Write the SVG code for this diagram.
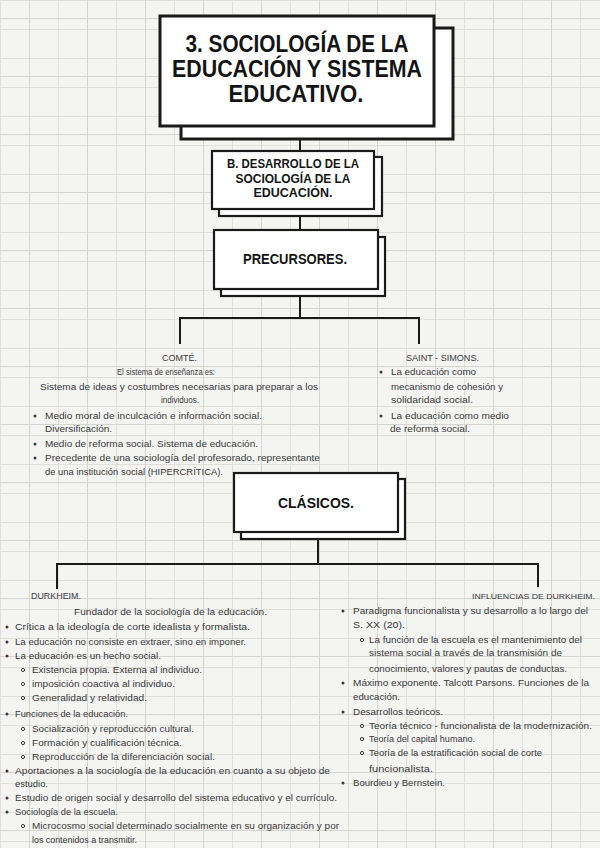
<svg xmlns="http://www.w3.org/2000/svg" width="600" height="848" viewBox="0 0 600 848">
<defs>
<pattern id="grid" x="0" y="0" width="29" height="29" patternUnits="userSpaceOnUse">
<path d="M0.5 0V29M0 0.5H29" fill="none" stroke="#dfdfdc" stroke-width="1"/>
</pattern>
<pattern id="grid2" x="29" y="18" width="58" height="58" patternUnits="userSpaceOnUse">
<path d="M0.5 0V58M0 0.5H58" fill="none" stroke="#d4d4d1" stroke-width="1"/>
</pattern>
<style>
.box{fill:#ffffff;stroke:#1a1a1a;stroke-width:2.2}
.tbox{fill:#ffffff;stroke:#1a1a1a;stroke-width:3}
.h{font-family:"Liberation Sans",Arial,sans-serif;font-weight:bold;fill:#141414;text-anchor:middle}
.t{font-family:"Liberation Sans",Arial,sans-serif;font-size:9.5px;fill:#3a3a3a}
.ln{fill:none;stroke:#1a1a1a;stroke-width:2}
.b{fill:#3a3a3a}
.o{fill:none;stroke:#3a3a3a;stroke-width:1}
</style>
</defs>
<rect width="600" height="848" fill="#f4f4f2"/>
<rect width="600" height="848" fill="url(#grid)"/>
<rect width="600" height="848" fill="url(#grid2)"/>

<g id="connectors">
<path class="ln" d="M300 139V151"/>
<path class="ln" d="M300 216V230"/>
<path class="ln" d="M300 296V318M180 344V318H419V344"/>
<path class="ln" d="M318 539V564M57 589V564H538V587"/>
</g>

<g id="title">
<rect class="tbox" x="181" y="28" width="272" height="111"/>
<rect class="tbox" x="160" y="16" width="274" height="110"/>
<text class="h" x="297" y="52" font-size="23" textLength="223" lengthAdjust="spacingAndGlyphs">3. SOCIOLOGÍA DE LA</text>
<text class="h" x="297" y="77" font-size="23" textLength="250" lengthAdjust="spacingAndGlyphs">EDUCACIÓN Y SISTEMA</text>
<text class="h" x="296" y="102" font-size="23" textLength="135" lengthAdjust="spacingAndGlyphs">EDUCATIVO.</text>
</g>

<g id="desarrollo">
<rect class="box" x="219" y="157" width="163" height="59"/>
<rect class="box" x="212" y="151" width="162" height="58"/>
<text class="h" x="293" y="168" font-size="12.5" textLength="132" lengthAdjust="spacingAndGlyphs">B. DESARROLLO DE LA</text>
<text class="h" x="293" y="183" font-size="12.5" textLength="115" lengthAdjust="spacingAndGlyphs">SOCIOLOGÍA DE LA</text>
<text class="h" x="293" y="197" font-size="12.5" textLength="79" lengthAdjust="spacingAndGlyphs">EDUCACIÓN.</text>
</g>

<g id="precursores">
<rect class="box" x="221" y="237" width="164" height="59"/>
<rect class="box" x="214" y="230" width="164" height="59"/>
<text class="h" x="295" y="264" font-size="14" textLength="104" lengthAdjust="spacingAndGlyphs">PRECURSORES.</text>
</g>

<g id="comte">
<text class="t" x="162" y="361" textLength="35" lengthAdjust="spacingAndGlyphs">COMTÉ.</text>
<text class="t" x="117" y="375" textLength="98" lengthAdjust="spacingAndGlyphs">El sistema de enseñanza es:</text>
<text class="t" x="40" y="390" textLength="278" lengthAdjust="spacingAndGlyphs">Sistema de ideas y costumbres necesarias para preparar a los</text>
<text class="t" x="161" y="403" textLength="38" lengthAdjust="spacingAndGlyphs">individuos.</text>
<circle class="b" cx="35" cy="416" r="1.5"/>
<text class="t" x="45" y="419" textLength="217" lengthAdjust="spacingAndGlyphs">Medio moral de inculcación e información social.</text>
<text class="t" x="45" y="432" textLength="67" lengthAdjust="spacingAndGlyphs">Diversificación.</text>
<circle class="b" cx="35" cy="444" r="1.5"/>
<text class="t" x="45" y="447" textLength="213" lengthAdjust="spacingAndGlyphs">Medio de reforma social. Sistema de educación.</text>
<circle class="b" cx="35" cy="458" r="1.5"/>
<text class="t" x="45" y="461" textLength="275" lengthAdjust="spacingAndGlyphs">Precedente de una sociología del profesorado, representante</text>
<text class="t" x="45" y="475" textLength="178" lengthAdjust="spacingAndGlyphs">de una institución social (HIPERCRÍTICA).</text>
</g>

<g id="saint-simons">
<text class="t" x="406" y="361" textLength="73" lengthAdjust="spacingAndGlyphs">SAINT - SIMONS.</text>
<circle class="b" cx="381" cy="372" r="1.5"/>
<text class="t" x="391" y="375" textLength="85" lengthAdjust="spacingAndGlyphs">La educación como</text>
<text class="t" x="391" y="390" textLength="112" lengthAdjust="spacingAndGlyphs">mecanismo de cohesión y</text>
<text class="t" x="391" y="403" textLength="82" lengthAdjust="spacingAndGlyphs">solidaridad social.</text>
<circle class="b" cx="381" cy="416" r="1.5"/>
<text class="t" x="391" y="419" textLength="118" lengthAdjust="spacingAndGlyphs">La educación como medio</text>
<text class="t" x="390" y="432" textLength="80" lengthAdjust="spacingAndGlyphs">de reforma social.</text>
</g>

<g id="clasicos">
<rect class="box" x="241" y="479" width="164" height="60"/>
<rect class="box" x="234" y="473" width="164" height="59"/>
<text class="h" x="316" y="508" font-size="15" textLength="76" lengthAdjust="spacingAndGlyphs">CLÁSICOS.</text>
</g>

<g id="durkheim">
<text class="t" x="31" y="599" textLength="50" lengthAdjust="spacingAndGlyphs">DURKHEIM.</text>
<text class="t" x="74" y="615" textLength="193" lengthAdjust="spacingAndGlyphs">Fundador de la sociología de la educación.</text>
<circle class="b" cx="7" cy="627" r="1.5"/>
<text class="t" x="15" y="630" textLength="235" lengthAdjust="spacingAndGlyphs">Crítica a la ideología de corte idealista y formalista.</text>
<circle class="b" cx="7" cy="642" r="1.5"/>
<text class="t" x="15" y="645" textLength="231" lengthAdjust="spacingAndGlyphs">La educación no consiste en extraer, sino en imponer.</text>
<circle class="b" cx="7" cy="656" r="1.5"/>
<text class="t" x="15" y="659" textLength="146" lengthAdjust="spacingAndGlyphs">La educación es un hecho social.</text>
<circle class="o" cx="23" cy="670" r="1.6"/>
<text class="t" x="32" y="673" textLength="170" lengthAdjust="spacingAndGlyphs">Existencia propia. Externa al individuo.</text>
<circle class="o" cx="23" cy="684" r="1.6"/>
<text class="t" x="32" y="687" textLength="143" lengthAdjust="spacingAndGlyphs">imposición coactiva al individuo.</text>
<circle class="o" cx="23" cy="698" r="1.6"/>
<text class="t" x="32" y="701" textLength="115" lengthAdjust="spacingAndGlyphs">Generalidad y relatividad.</text>
<circle class="b" cx="7" cy="714" r="1.5"/>
<text class="t" x="15" y="717" textLength="113" lengthAdjust="spacingAndGlyphs">Funciones de la educación.</text>
<circle class="o" cx="23" cy="729" r="1.6"/>
<text class="t" x="32" y="732" textLength="162" lengthAdjust="spacingAndGlyphs">Socialización y reproducción cultural.</text>
<circle class="o" cx="23" cy="743" r="1.6"/>
<text class="t" x="32" y="746" textLength="150" lengthAdjust="spacingAndGlyphs">Formación y cualificación técnica.</text>
<circle class="o" cx="23" cy="757" r="1.6"/>
<text class="t" x="32" y="760" textLength="183" lengthAdjust="spacingAndGlyphs">Reproducción de la diferenciación social.</text>
<circle class="b" cx="7" cy="771" r="1.5"/>
<text class="t" x="15" y="774" textLength="315" lengthAdjust="spacingAndGlyphs">Aportaciones a la sociología de la educación en cuanto a su objeto de</text>
<text class="t" x="15" y="787" textLength="33" lengthAdjust="spacingAndGlyphs">estudio.</text>
<circle class="b" cx="7" cy="798" r="1.5"/>
<text class="t" x="15" y="801" textLength="322" lengthAdjust="spacingAndGlyphs">Estudio de origen social y desarrollo del sistema educativo y el currículo.</text>
<circle class="b" cx="7" cy="812" r="1.5"/>
<text class="t" x="15" y="815" textLength="103" lengthAdjust="spacingAndGlyphs">Sociología de la escuela.</text>
<circle class="o" cx="23" cy="826" r="1.6"/>
<text class="t" x="32" y="829" textLength="307" lengthAdjust="spacingAndGlyphs">Microcosmo social determinado socialmente en su organización y por</text>
<text class="t" x="32" y="843" textLength="105" lengthAdjust="spacingAndGlyphs">los contenidos a transmitir.</text>
</g>

<g id="influencias">
<text class="t" x="472" y="599" font-size="7.8" style="font-size:7.8px" textLength="123" lengthAdjust="spacingAndGlyphs">INFLUENCIAS DE DURKHEIM.</text>
<circle class="b" cx="343" cy="611" r="1.5"/>
<text class="t" x="353" y="614" textLength="235" lengthAdjust="spacingAndGlyphs">Paradigma funcionalista y su desarrollo a lo largo del</text>
<text class="t" x="353" y="628" textLength="52" lengthAdjust="spacingAndGlyphs">S. XX (20).</text>
<circle class="o" cx="362" cy="640" r="1.6"/>
<text class="t" x="369" y="643" textLength="213" lengthAdjust="spacingAndGlyphs">La función de la escuela es el mantenimiento del</text>
<text class="t" x="369" y="656" textLength="193" lengthAdjust="spacingAndGlyphs">sistema social a través de la transmisión de</text>
<text class="t" x="369" y="672" textLength="198" lengthAdjust="spacingAndGlyphs">conocimiento, valores y pautas de conductas.</text>
<circle class="b" cx="343" cy="683" r="1.5"/>
<text class="t" x="353" y="686" textLength="236" lengthAdjust="spacingAndGlyphs">Máximo exponente. Talcott Parsons. Funciones de la</text>
<text class="t" x="353" y="700" textLength="47" lengthAdjust="spacingAndGlyphs">educación.</text>
<circle class="b" cx="343" cy="712" r="1.5"/>
<text class="t" x="353" y="715" textLength="90" lengthAdjust="spacingAndGlyphs">Desarrollos teóricos.</text>
<circle class="o" cx="362" cy="726" r="1.6"/>
<text class="t" x="369" y="729" textLength="223" lengthAdjust="spacingAndGlyphs">Teoría técnico - funcionalista de la modernización.</text>
<circle class="o" cx="362" cy="739" r="1.6"/>
<text class="t" x="369" y="742" textLength="106" lengthAdjust="spacingAndGlyphs">Teoría del capital humano.</text>
<circle class="o" cx="362" cy="753" r="1.6"/>
<text class="t" x="369" y="756" textLength="173" lengthAdjust="spacingAndGlyphs">Teoría de la estratificación social de corte</text>
<text class="t" x="369" y="772" textLength="64" lengthAdjust="spacingAndGlyphs">funcionalista.</text>
<circle class="b" cx="343" cy="783" r="1.5"/>
<text class="t" x="353" y="786" textLength="92" lengthAdjust="spacingAndGlyphs">Bourdieu y Bernstein.</text>
</g>
</svg>
